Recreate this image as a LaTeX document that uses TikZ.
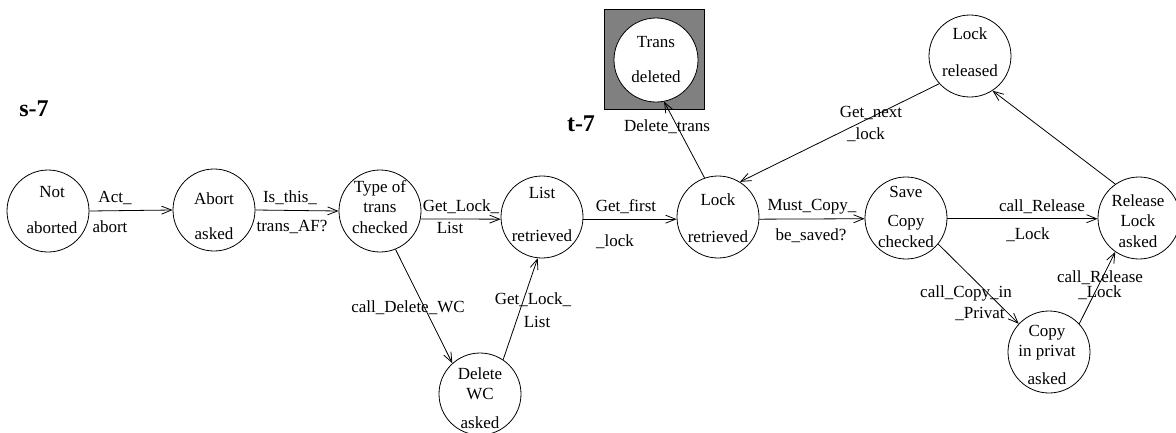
\documentclass[tikz,border=0pt]{standalone}
\usepackage{fontspec}
\setmainfont{Liberation Serif}
\usetikzlibrary{arrows.meta}
\begin{document}
\begin{tikzpicture}[x=1pt,y=-1pt,
  state/.style={draw, circle, line width=0.8pt, minimum size=82pt, inner sep=0pt, fill=white},
  txt/.style={font=\fontsize{17}{20.4}\selectfont, align=center, inner sep=0pt},
  lbl/.style={font=\fontsize{17}{20.4}\selectfont, inner sep=0pt},
  ttl/.style={font=\fontsize{24}{28}\selectfont\bfseries, inner sep=0pt},
  arr/.style={line width=0.8pt, -{Straight Barb[length=10pt,width=8pt]}},
  finalbox/.style={draw, line width=0.8pt, fill=black!50, minimum size=100pt, inner sep=0pt},
]
\useasboundingbox (0,0) rectangle (1176,432);

% titles
\node[ttl] (s7) at (34,109) {s-7};
\node[ttl] (t7) at (581,124) {t-7};

% final state box
\node[finalbox] (box) at (654,59) {};

% states
\node[state] (na) at (48,211) {};
\node[state] (aa) at (214,210) {};
\node[state] (tc) at (380,211) {};
\node[state] (lr) at (542,217) {};
\node[state] (dw) at (480,394) {};
\node[state] (lkr) at (718,217) {};
\node[state, minimum size=84pt] (td) at (656,60) {};
\node[state] (lrel) at (970,56) {};
\node[state] (sc) at (906,218) {};
\node[state] (rl) at (1139,218) {};
\node[state] (cp) at (1049,352) {};

% state texts
\node[txt] (na-t) at (52,210) {Not\\[15.6pt]aborted};
\node[txt] (aa-t) at (214,216) {Abort\\[14.6pt]asked};
\node[txt] (tc-t) at (380,207) {Type of\\trans\\checked};
\node[txt] (lr-t) at (542,214) {List\\[22.6pt]retrieved};
\node[txt] (dw-t) at (480,398) {Delete\\WC\\[8.6pt]asked};
\node[txt] (lkr-t) at (718,218) {Lock\\[16.6pt]retrieved};
\node[txt] (td-t) at (656,60) {Trans\\[14.6pt]deleted};
\node[txt] (lrel-t) at (970,52) {Lock\\[16.6pt]released};
\node[txt] (sc-t) at (906,217) {Save\\[8.6pt]Copy\\checked};
\node[txt] (rl-t) at (1138,221) {Release\\Lock\\asked};
\node[txt] (cp-t) at (1047,355) {Copy\\in privat\\[7.6pt]asked};

% transitions
\draw[arr] (na.east) -- (aa.west);
\draw[arr] (aa.east) -- (tc.west);
\draw[arr] (tc.-11) -- (lr.183);
\draw[arr] (tc.-68) -- (dw.132);
\draw[arr] (dw.56) -- (lr.-96);
\draw[arr] (lr.-3) -- (lkr.183);
\draw[arr] (lkr.109) -- (td.-79);
\draw[arr] (lrel.222) -- (lkr.58);
\draw[arr] (lkr.-3) -- (sc.181);
\draw[arr] (sc.-1) -- (rl.181);
\draw[arr] (sc.-39) -- (cp.137);
\draw[arr] (cp.43) -- (rl.235);
\draw[arr] (rl.125) -- (lrel.-57);

% transition labels
\node[lbl] (l1a) at (115,198) {Act\_};
\node[lbl] (l1b) at (110,227) {abort};
\node[lbl] (l2a) at (290,198) {Is\_this\_};
\node[lbl] (l2b) at (292,227) {trans\_AF?};
\node[lbl] (l3a) at (461,207) {Get\_Lock\_};
\node[lbl] (l3b) at (450,228) {List};
\node[lbl] (l4) at (408,308) {call\_Delete\_WC};
\node[lbl] (l5a) at (533,300) {Get\_Lock\_};
\node[lbl] (l5b) at (537,322) {List};
\node[lbl] (l6a) at (626,207) {Get\_first};
\node[lbl] (l6b) at (615,242) {\_lock};
\node[lbl] (l7) at (667,127) {Delete\_trans};
\node[lbl] (l8a) at (812,207) {Must\_Copy\_};
\node[lbl] (l8b) at (811,236) {be\_saved?};
\node[lbl] (l9a) at (871,113) {Get\_next};
\node[lbl] (l9b) at (866,135) {\_lock};
\node[lbl] (l10a) at (1042,207) {call\_Release};
\node[lbl] (l10b) at (1028,235) {\_Lock};
\node[lbl] (l11a) at (966,293) {call\_Copy\_in};
\node[lbl] (l11b) at (980,314) {\_Privat};
\node[lbl] (l12a) at (1100,278) {call\_Release};
\node[lbl] (l12b) at (1100,293) {\_Lock};
\end{tikzpicture}
\end{document}
